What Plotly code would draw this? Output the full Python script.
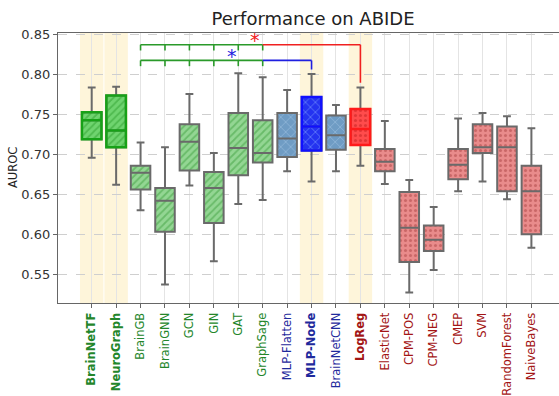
import plotly.graph_objects as go

# ---- data -------------------------------------------------------------
methods = ["BrainNetTF", "NeuroGraph", "BrainGB", "BrainGNN", "GCN", "GIN", "GAT",
           "GraphSage", "MLP-Flatten", "MLP-Node", "BrainNetCNN", "LogReg",
           "ElasticNet", "CPM-POS", "CPM-NEG", "CMEP", "SVM", "RandomForest",
           "NaiveBayes"]
groups = ["gnn"] * 8 + ["mlp"] * 3 + ["ml"] * 8
highlighted = ["BrainNetTF", "NeuroGraph", "MLP-Node", "LogReg"]

lower_fence = [0.696, 0.662, 0.630, 0.537, 0.661, 0.566, 0.638, 0.643, 0.679, 0.666,
               0.679, 0.686, 0.663, 0.527, 0.555, 0.654, 0.666, 0.644, 0.583]
q1 = [0.719, 0.709, 0.656, 0.603, 0.680, 0.614, 0.674, 0.690, 0.697, 0.705,
      0.706, 0.712, 0.679, 0.565, 0.579, 0.669, 0.702, 0.654, 0.600]
median = [0.743, 0.730, 0.677, 0.642, 0.716, 0.658, 0.708, 0.702, 0.720, 0.735,
          0.724, 0.732, 0.691, 0.608, 0.593, 0.687, 0.709, 0.709, 0.654]
q3 = [0.753, 0.774, 0.686, 0.658, 0.738, 0.678, 0.752, 0.743, 0.752, 0.772,
      0.749, 0.757, 0.707, 0.653, 0.611, 0.707, 0.738, 0.735, 0.686]
upper_fence = [0.784, 0.785, 0.715, 0.709, 0.776, 0.702, 0.802, 0.797, 0.781, 0.801,
               0.762, 0.784, 0.742, 0.668, 0.634, 0.745, 0.752, 0.748, 0.733]

# significance brackets: GNN baselines compared against a reference model
compared = ["BrainGB", "BrainGNN", "GCN", "GIN", "GAT", "GraphSage"]
sig_refs = ["LogReg", "MLP-Node"]

# ---- styles -----------------------------------------------------------
label_color = {"gnn": "#23862a", "mlp": "#1f2a9c", "ml": "#a31515"}
box_style = {
    "gnn": dict(fill="#93d693", fg="#3f9f3f", shape="/", size=5, sol=0.35),
    "mlp": dict(fill="#6f9cc4", fg="#a9c8e6", shape="x", size=7, sol=0.25),
    "ml": dict(fill="#e98b8b", fg="#a94444", shape=".", size=5, sol=0.3),
}
hl_style = {
    "BrainNetTF": dict(fill="#6fd46f", fg="#2f9f2f", edge="#17a117"),
    "NeuroGraph": dict(fill="#6fd46f", fg="#2f9f2f", edge="#17a117"),
    "MLP-Node": dict(fill="#2433f0", fg="#8fb4ff", edge="#1010ff"),
    "LogReg": dict(fill="#ff4c4c", fg="#c21f1f", edge="#ff1a1a"),
}
sig_color = {"LogReg": "#f02020", "MLP-Node": "#1f1fe0"}
BRACKET_GREEN = "#2a9a2a"
GRAY = "#6a6a6a"
BOX_W = 0.8

idx = {m: i for i, m in enumerate(methods)}
fig = go.Figure()

# pattern-filled box bodies (q1 -> q3)
for i, m in enumerate(methods):
    st = box_style[groups[i]]
    fill, fg = st["fill"], st["fg"]
    if m in hl_style:
        fill, fg = hl_style[m]["fill"], hl_style[m]["fg"]
    fig.add_trace(go.Bar(
        x=[i], y=[q3[i] - q1[i]], base=[q1[i]], width=BOX_W,
        marker=dict(color=fill, line=dict(width=0),
                    pattern=dict(shape=st["shape"], fgcolor=fg, size=st["size"],
                                 solidity=st["sol"], fillmode="overlay")),
        showlegend=False, hoverinfo="skip"))

# whiskers, outlines and medians
for i, m in enumerate(methods):
    fig.add_trace(go.Box(
        x=[i], q1=[q1[i]], median=[median[i]], q3=[q3[i]],
        lowerfence=[lower_fence[i]], upperfence=[upper_fence[i]],
        width=BOX_W, whiskerwidth=0.4, fillcolor="rgba(0,0,0,0)",
        line=dict(color=GRAY, width=2), boxpoints=False,
        showlegend=False, hoverinfo="skip"))
    if m in hl_style:
        fig.add_trace(go.Box(
            x=[i], q1=[q1[i]], median=[median[i]], q3=[q3[i]],
            lowerfence=[q1[i]], upperfence=[q3[i]],
            width=BOX_W, whiskerwidth=0, fillcolor="rgba(0,0,0,0)",
            line=dict(color=hl_style[m]["edge"], width=2.5), boxpoints=False,
            showlegend=False, hoverinfo="skip"))

shapes = []
# highlight bands behind the featured models
for m in highlighted:
    i = idx[m]
    shapes.append(dict(type="rect", xref="x", yref="paper", x0=i - 0.48, x1=i + 0.48,
                       y0=0, y1=1, fillcolor="#fef5da", line=dict(width=0),
                       layer="below"))

# significance brackets
levels = [0.8377, 0.818]
tick_len = 0.0072
drop_to = {"LogReg": 0.790, "MLP-Node": 0.8066}
xa, xb = idx[compared[0]], idx[compared[-1]]
for ref, lvl in zip(sig_refs, levels):
    shapes.append(dict(type="line", xref="x", yref="y", x0=xa, x1=xb, y0=lvl, y1=lvl,
                       line=dict(color=BRACKET_GREEN, width=1.6)))
    for m in compared:
        shapes.append(dict(type="line", xref="x", yref="y", x0=idx[m], x1=idx[m],
                           y0=lvl, y1=lvl - tick_len,
                           line=dict(color=BRACKET_GREEN, width=1.6)))
    r = idx[ref]
    shapes.append(dict(type="line", xref="x", yref="y", x0=xb, x1=r, y0=lvl, y1=lvl,
                       line=dict(color=sig_color[ref], width=1.6)))
    shapes.append(dict(type="line", xref="x", yref="y", x0=r, x1=r, y0=lvl,
                       y1=drop_to[ref], line=dict(color=sig_color[ref], width=1.6)))

annotations = [
    dict(text="*", x=6.69, y=0.8456, xref="x", yref="y", showarrow=False,
         yshift=-2, font=dict(family="DejaVu Sans", size=19, color=sig_color["LogReg"])),
    dict(text="*", x=5.73, y=0.8257, xref="x", yref="y", showarrow=False,
         yshift=-2, font=dict(family="DejaVu Sans", size=19, color=sig_color["MLP-Node"])),
    dict(text="AUROC", x=0, y=0.5, xref="paper", yref="paper", xanchor="center",
         yanchor="middle", xshift=-45, textangle=-90, showarrow=False,
         font=dict(family="DejaVu Sans", size=11.5, color="#222")),
]

ticktext = []
for i, m in enumerate(methods):
    t = f"<b>{m}</b>" if m in highlighted else m
    ticktext.append(f"<span style='color:{label_color[groups[i]]}'>{t}</span>")

fig.update_layout(
    width=559, height=396,
    margin=dict(l=58, r=0, t=33, b=80),
    paper_bgcolor="white", plot_bgcolor="white",
    barmode="overlay", boxmode="overlay",
    title=dict(text="Performance on ABIDE", x=313 / 559, xanchor="center",
               y=1 - 19 / 396, yanchor="middle",
               font=dict(family="DejaVu Sans", size=18, color="#222")),
    shapes=shapes, annotations=annotations,
    xaxis=dict(range=[-1.38, 19.13], tickmode="array", tickvals=list(range(len(methods))),
               ticktext=ticktext, tickangle=-90, showgrid=True, gridcolor="#e4e4e4",
               gridwidth=1, showline=True, linecolor="#666", linewidth=1.3, mirror=True,
               ticks="outside", ticklen=4, tickcolor="#666", zeroline=False,
               tickfont=dict(family="DejaVu Sans", size=11.5)),
    yaxis=dict(range=[0.5137, 0.8524], tickvals=[0.55, 0.60, 0.65, 0.70, 0.75, 0.80, 0.85],
               tickformat=".2f", showgrid=True, gridcolor="#cfcfcf", griddash="dash",
               gridwidth=1, showline=True, linecolor="#666", linewidth=1.3,
               ticks="outside", ticklen=4, tickcolor="#666", zeroline=False,
               tickfont=dict(family="DejaVu Sans", size=13, color="#333")),
)

fig.write_html("out.html")
